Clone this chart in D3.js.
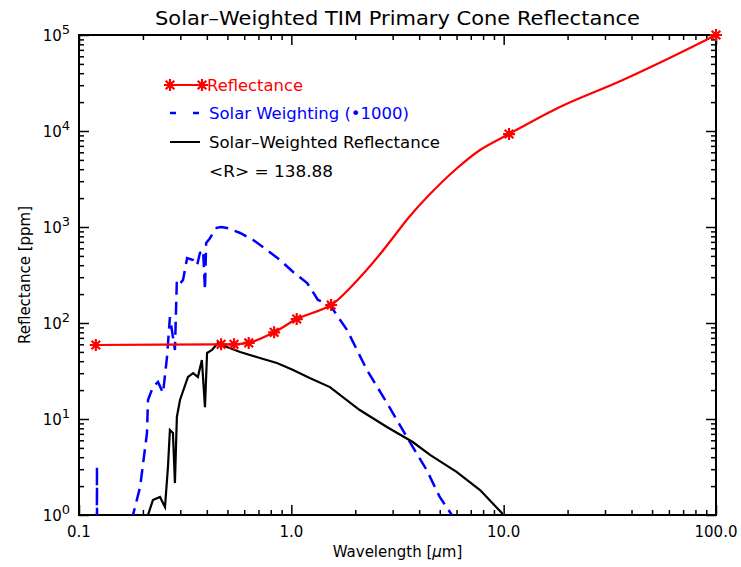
<!DOCTYPE html>
<html>
<head>
<meta charset="UTF-8" />
<script src="https://d3js.org/d3.v7.min.js"></script>
<style>
  body { margin: 0; background: #fff; }
  text { font-family: "DejaVu Sans", "Liberation Sans", sans-serif; }
</style>
</head>
<body>
<div id="chart"></div>
<script>
// reflectance curve (ppm) vs wavelength (um)
const reflWl  = [0.12, 0.467, 0.537, 0.63, 0.83, 1.06, 1.54, 1.89, 2.22, 2.62, 3.08, 3.62, 4.50, 5.90, 7.74, 10.6, 18.4, 35.3, 60.8, 100];
const reflVal = [59, 60, 60, 62, 80, 110, 154, 232, 340, 523, 826, 1303, 2207, 3925, 6340, 9300, 17800, 33000, 58000, 100000];
// measured points drawn with asterisks
const markWl  = [0.12, 0.467, 0.537, 0.63, 0.83, 1.06, 1.54, 10.6, 100];
const markVal = [59, 60, 60, 62, 80, 110, 154, 9300, 100000];

// solar weighting (x1000)
const solarWl  = [0.1213, 0.1215, 0.1217, 0.175, 0.1796, 0.194, 0.209, 0.2113, 0.2229, 0.2355, 0.2488, 0.2597, 0.268, 0.283, 0.289, 0.300, 0.309, 0.323, 0.345, 0.360, 0.371, 0.384, 0.392, 0.397, 0.413, 0.428, 0.445, 0.467, 0.498, 0.574, 0.661, 0.768, 0.884, 1.02, 1.187, 1.334, 1.52, 1.83, 2.27, 2.82, 3.50, 4.34, 5.0, 5.7, 6.0];
const solarVal = [0.3, 3.2, 0.3, 0.5, 1.0, 1.96, 7.15, 15.8, 21.5, 24.3, 18.7, 44.3, 115, 52.3, 281, 260, 281, 475, 453, 400, 535, 576, 221, 681, 760, 866, 980, 1000, 977, 866, 733, 576, 453, 340, 261, 174, 154, 84.5, 32.4, 14.7, 6.49, 2.94, 1.54, 1.0, 0.8];

// solar-weighted reflectance
const weightWl  = [0.208, 0.2113, 0.2229, 0.2406, 0.2541, 0.2624, 0.268, 0.277, 0.283, 0.289, 0.299, 0.326, 0.345, 0.363, 0.379, 0.392, 0.401, 0.423, 0.451, 0.498, 0.574, 0.711, 0.855, 1.02, 1.22, 1.52, 2.10, 2.82, 3.73, 4.50, 6.0, 7.74, 9.8, 10.1];
const weightVal = [0.8, 1.0, 1.43, 1.54, 1.21, 3.16, 7.67, 7.15, 2.15, 10.5, 15.8, 27.4, 30.1, 27.4, 41.2, 13.3, 48.7, 52.3, 61.9, 56.2, 49.9, 43.2, 38.3, 32.4, 26.7, 21.5, 12.4, 8.26, 5.76, 4.22, 2.81, 1.82, 1.05, 0.9];

const xMajor = [0.1, 1, 10, 100];
const xLabels = ["0.1", "1.0", "10.0", "100.0"];
const yMajor = [1, 10, 100, 1000, 10000, 100000];
const yExp = ["0", "1", "2", "3", "4", "5"];

const W = 741, H = 567;
const L = 79, R = 716, T = 35, B = 515;

const x = d3.scaleLog().domain([0.1, 100]).range([L, R]);
const y = d3.scaleLog().domain([1, 1e5]).range([B, T]);

const svg = d3.select("#chart").append("svg")
    .attr("width", W).attr("height", H);

svg.append("clipPath").attr("id", "plotclip")
  .append("rect").attr("x", L).attr("y", T).attr("width", R - L).attr("height", B - T);

// minor tick values
const minor = (lo, hi) => {
    const out = [];
    for (let d = lo; d < hi; d *= 10)
        for (let k = 2; k <= 9; k++) out.push(d * k);
    return out;
};
const xMinor = minor(0.1, 100);
const yMinor = minor(1, 1e5);

function styleAxis(g) {
    g.select(".domain").remove();
    g.selectAll("line").attr("stroke", "#000").attr("stroke-width", 1.5);
}

// x axes (inward ticks)
svg.append("g").attr("transform", `translate(0,${B})`)
    .call(d3.axisBottom(x).tickValues(xMajor).tickSize(-10).tickFormat(""))
    .call(styleAxis);
svg.append("g").attr("transform", `translate(0,${B})`)
    .call(d3.axisBottom(x).tickValues(xMinor).tickSize(-5).tickFormat(""))
    .call(styleAxis);
svg.append("g").attr("transform", `translate(0,${T})`)
    .call(d3.axisTop(x).tickValues(xMajor).tickSize(-10).tickFormat(""))
    .call(styleAxis);
svg.append("g").attr("transform", `translate(0,${T})`)
    .call(d3.axisTop(x).tickValues(xMinor).tickSize(-5).tickFormat(""))
    .call(styleAxis);
// y axes
svg.append("g").attr("transform", `translate(${L},0)`)
    .call(d3.axisLeft(y).tickValues(yMajor).tickSize(-10).tickFormat(""))
    .call(styleAxis);
svg.append("g").attr("transform", `translate(${L},0)`)
    .call(d3.axisLeft(y).tickValues(yMinor).tickSize(-5).tickFormat(""))
    .call(styleAxis);
svg.append("g").attr("transform", `translate(${R},0)`)
    .call(d3.axisRight(y).tickValues(yMajor).tickSize(-10).tickFormat(""))
    .call(styleAxis);
svg.append("g").attr("transform", `translate(${R},0)`)
    .call(d3.axisRight(y).tickValues(yMinor).tickSize(-5).tickFormat(""))
    .call(styleAxis);

// frame
svg.append("rect").attr("x", L).attr("y", T).attr("width", R - L).attr("height", B - T)
    .attr("fill", "none").attr("stroke", "#000").attr("stroke-width", 2);

// x tick labels
svg.append("g").selectAll("text").data(xMajor).join("text")
    .attr("x", d => x(d)).attr("y", B + 22)
    .attr("text-anchor", "middle").attr("font-size", 15)
    .text((d, i) => xLabels[i]);

// y tick labels with exponent
const yl = svg.append("g").selectAll("text").data(yMajor).join("text")
    .attr("x", L - 9).attr("y", d => y(d) + 6)
    .attr("text-anchor", "end").attr("font-size", 15);
yl.append("tspan").text("10");
yl.append("tspan").attr("dy", -7).attr("font-size", 13).text((d, i) => yExp[i]);

// titles
svg.append("text").attr("x", (L + R) / 2).attr("y", 25)
    .attr("text-anchor", "middle").attr("font-size", 19)
    .attr("textLength", 485).attr("lengthAdjust", "spacingAndGlyphs")
    .text("Solar\u2013Weighted TIM Primary Cone Reflectance");
const xt = svg.append("text").attr("x", (L + R) / 2).attr("y", 557)
    .attr("text-anchor", "middle").attr("font-size", 15);
xt.append("tspan").text("Wavelength [");
xt.append("tspan").attr("font-style", "italic").text("\u03bc");
xt.append("tspan").text("m]");
svg.append("text").attr("transform", `translate(30,${(T + B) / 2}) rotate(-90)`)
    .attr("text-anchor", "middle").attr("font-size", 15)
    .text("Reflectance [ppm]");

const plot = svg.append("g").attr("clip-path", "url(#plotclip)");

const line = d3.line().x(d => x(d[0])).y(d => y(d[1]));

plot.append("path")
    .datum(d3.zip(solarWl, solarVal))
    .attr("fill", "none").attr("stroke", "#0000ff").attr("stroke-width", 2.5)
    .attr("stroke-dasharray", "13,7")
    .attr("d", line);

plot.append("path")
    .datum(d3.zip(weightWl, weightVal))
    .attr("fill", "none").attr("stroke", "#000").attr("stroke-width", 2.2)
    .attr("d", line);

plot.append("path")
    .datum(d3.zip(reflWl, reflVal))
    .attr("fill", "none").attr("stroke", "#ff0000").attr("stroke-width", 2.2)
    .attr("d", d3.line().curve(d3.curveCatmullRom.alpha(0.5)).x(d => x(d[0])).y(d => y(d[1])));

const star = "M-6,0L6,0M0,-6L0,6M-4.3,-4.3L4.3,4.3M-4.3,4.3L4.3,-4.3";
svg.append("g").selectAll("path").data(d3.zip(markWl, markVal)).join("path")
    .attr("transform", d => `translate(${x(d[0])},${y(d[1])})`)
    .attr("d", star).attr("stroke", "#ff0000").attr("stroke-width", 2.2).attr("fill", "none");

// legend
const lg = svg.append("g").attr("font-size", 15);
lg.append("line").attr("x1", 170).attr("x2", 202).attr("y1", 85).attr("y2", 85)
    .attr("stroke", "#ff0000").attr("stroke-width", 2);
[170, 202].forEach(px => lg.append("path").attr("transform", `translate(${px},85)`)
    .attr("d", star).attr("stroke", "#ff0000").attr("stroke-width", 2.2));
lg.append("text").attr("x", 207).attr("y", 91).attr("fill", "#ff0000")
    .attr("textLength", 96).attr("lengthAdjust", "spacingAndGlyphs").text("Reflectance");
lg.append("line").attr("x1", 170).attr("x2", 200).attr("y1", 113).attr("y2", 113)
    .attr("stroke", "#0000ff").attr("stroke-width", 2.5).attr("stroke-dasharray", "6,17");
lg.append("text").attr("x", 209).attr("y", 119).attr("fill", "#0000ff")
    .attr("textLength", 200).attr("lengthAdjust", "spacingAndGlyphs").text("Solar Weighting (\u20221000)");
lg.append("line").attr("x1", 170).attr("x2", 200).attr("y1", 142).attr("y2", 142)
    .attr("stroke", "#000").attr("stroke-width", 2);
lg.append("text").attr("x", 209).attr("y", 148)
    .attr("textLength", 231).attr("lengthAdjust", "spacingAndGlyphs").text("Solar\u2013Weighted Reflectance");
lg.append("text").attr("x", 209).attr("y", 177)
    .attr("textLength", 124).attr("lengthAdjust", "spacingAndGlyphs").text("<R> = 138.88");
</script>
</body>
</html>
